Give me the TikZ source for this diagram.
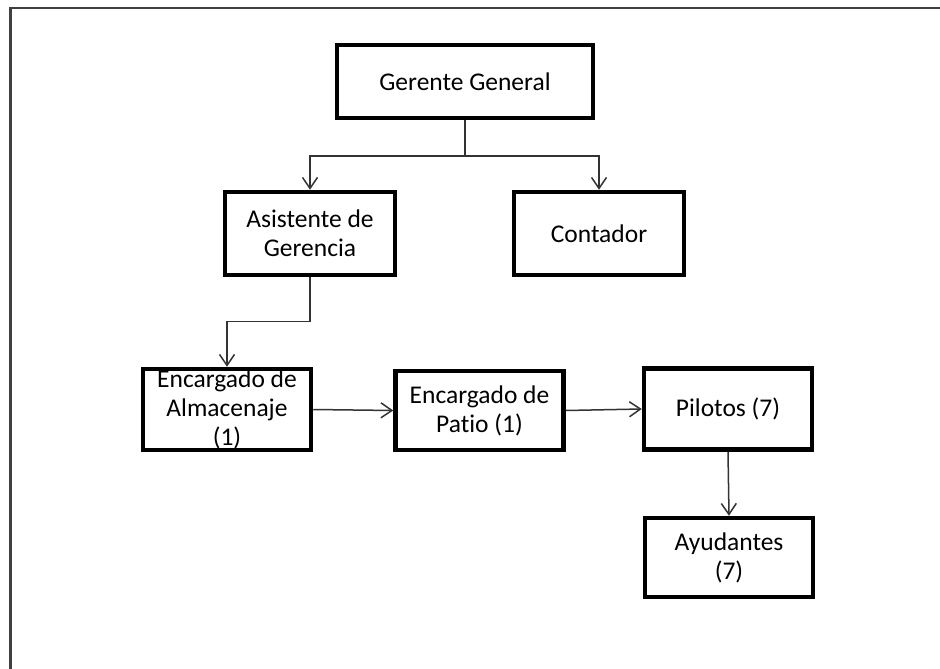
\documentclass[tikz,border=0pt]{standalone}
\usepackage{fontspec}
\setmainfont{Carlito}[Ligatures=NoCommon]
\usetikzlibrary{arrows.meta}
\begin{document}
\begin{tikzpicture}[x=1pt,y=-1pt,
  box/.style={draw=black, line width=4.5pt, fill=white, inner sep=0pt,
    align=center, minimum width=168pt, minimum height=81pt,
    font=\fontsize{25.5}{29}\selectfont},
  link/.style={draw=black!80, line width=1.5pt},
  tip/.style={link, -{Straight Barb[length=11pt,width=15pt]}},
  frame/.style={draw=black!75, line width=2.2pt}]
\useasboundingbox (0,0) rectangle (940,669);

% outer frame (top and left edges)
\coordinate (fbl) at (10.5,669);
\coordinate (ftl) at (10.5,8);
\coordinate (ftr) at (940,8);
\draw[frame] (fbl) -- (ftl) -- (ftr);

% boxes
\node[box, minimum width=256pt, minimum height=73pt] (gg) at (465,81.5) {Gerente General};
\node[box, minimum width=170pt, minimum height=83pt] (asis) at (310,233.5) {Asistente de\\Gerencia};
\node[box, minimum width=170pt, minimum height=83pt] (cont) at (599,233.5) {Contador};
\node[box] (alm) at (227,409.5) {Encargado de\\Almacenaje\\(1)};
\node[box, minimum height=79pt] (patio) at (479.5,410.5) {Encargado de\\Patio (1)};
\node[box] (pil) at (728,409) {Pilotos (7)};
\node[box, minimum height=79pt] (ayu) at (729,557.5) {Ayudantes\\(7)};

% connectors
\coordinate (j) at (465,156);
\draw[link] (gg.south) -- (j);
\draw[tip] (j) -| (asis.north);
\draw[tip] (j) -| (cont.north);
\draw[tip] (asis.south) -- ++(0,44) -| (alm.north);
\draw[tip] (alm.east) -- (patio.west);
\draw[tip] (patio.east) -- (pil.west);
\draw[tip] (pil.south) -- (ayu.north);
\end{tikzpicture}
\end{document}
